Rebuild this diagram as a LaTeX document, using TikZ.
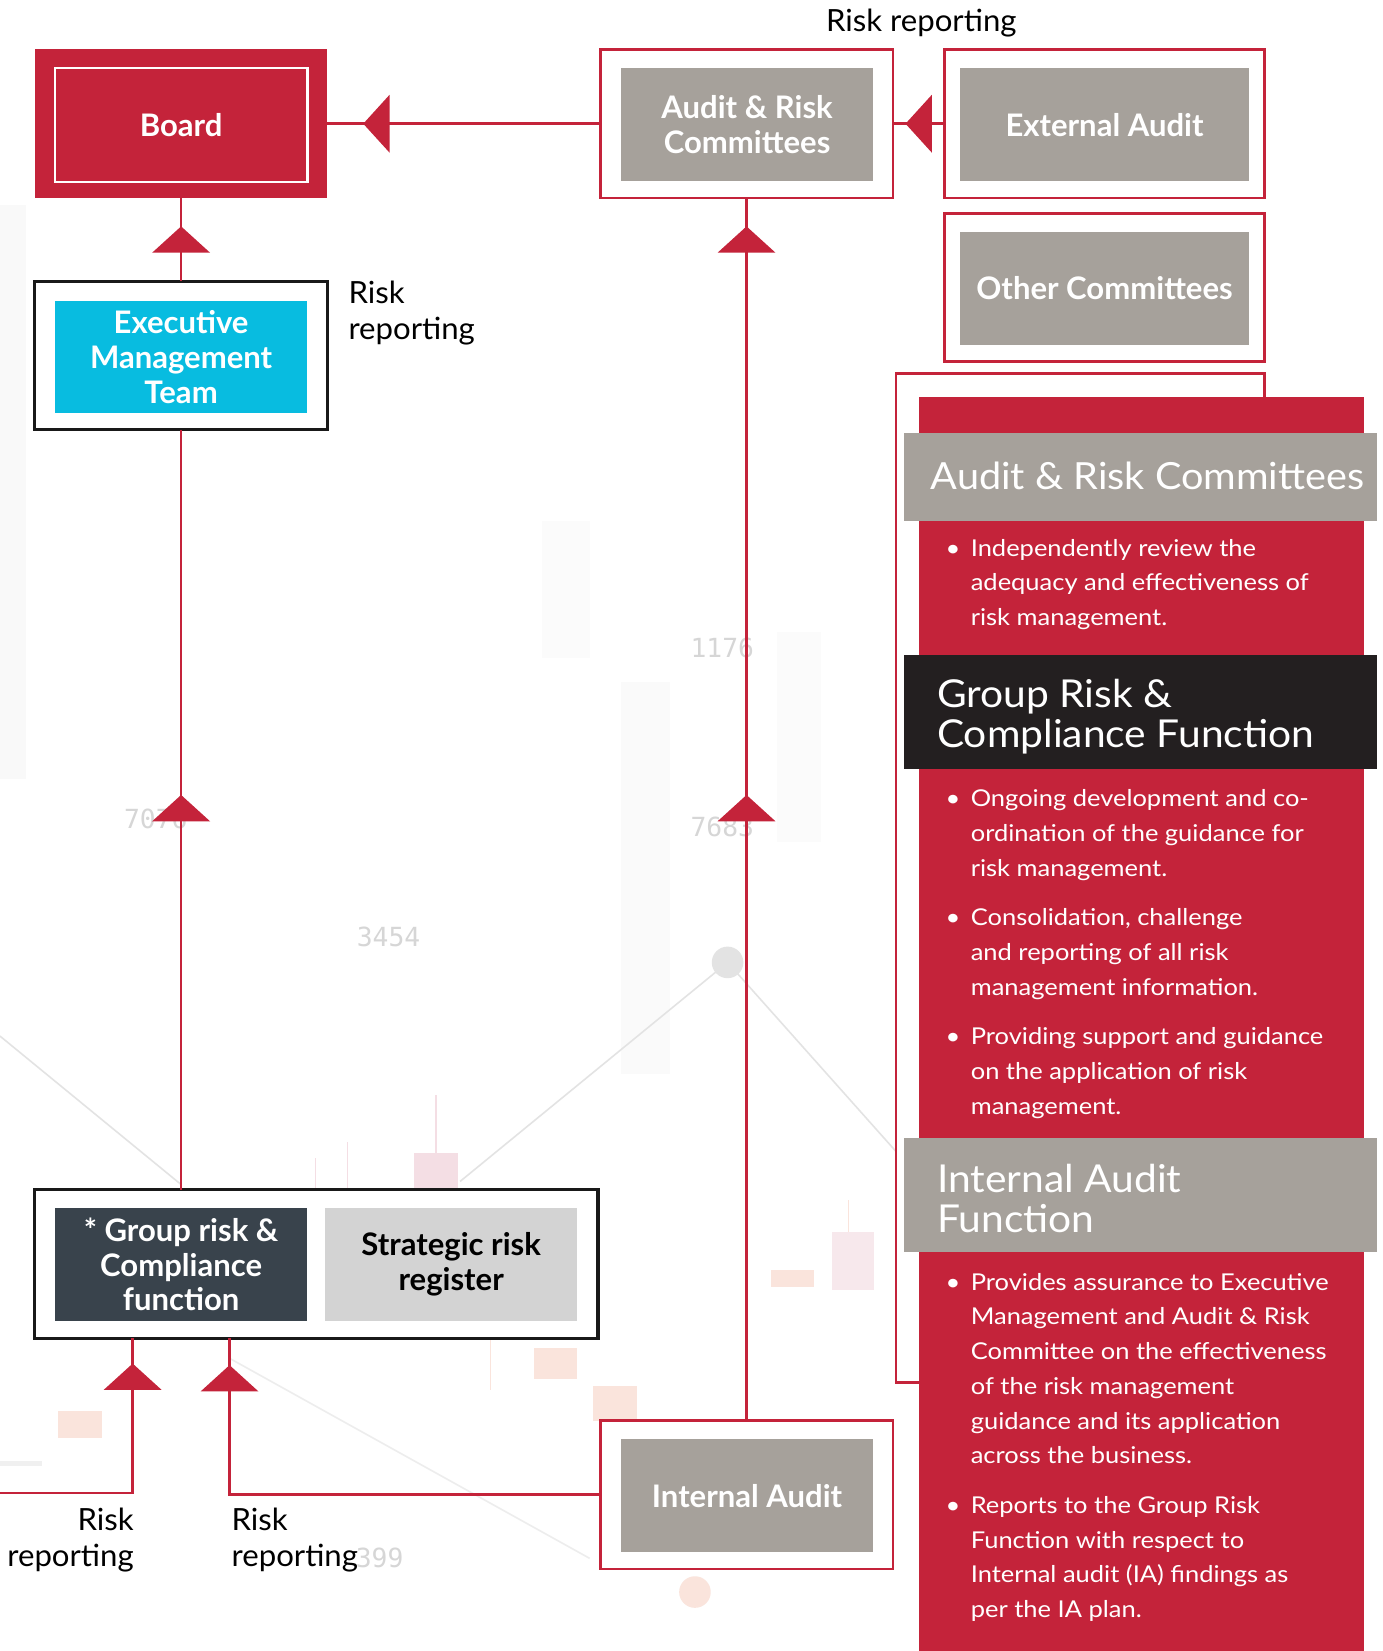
\documentclass[tikz,border=0pt]{standalone}
\usepackage{fontspec}
\setmainfont{Lato}
\newfontfamily\digitfont{DejaVu Sans Mono}
\newfontfamily\bulfont{Lato}[FakeStretch=1.1]
\newfontfamily\headfont{Lato}[FakeStretch=1.06]
\newfontfamily\lblfont{Lato}[FakeStretch=1.02]
\usetikzlibrary{arrows.meta,decorations.markings,calc}
\definecolor{cred}{HTML}{C4233A}
\definecolor{cgray}{HTML}{A6A19B}
\definecolor{cblack}{HTML}{231F20}
\definecolor{ccyan}{HTML}{08BCE0}
\definecolor{cslate}{HTML}{39434C}
\definecolor{clight}{HTML}{D3D3D3}
\definecolor{cpink}{HTML}{F4DEE4}
\definecolor{csalmon}{HTML}{FAE4DC}
\begin{document}
\begin{tikzpicture}[x=1pt,y=-1pt,
  every node/.style={inner sep=0pt,outer sep=0pt},
  redframe/.style={draw=cred,line width=2.6pt,fill=white},
  blackframe/.style={draw=black!90,line width=3pt,fill=white},
  innerbox/.style={align=center,text=white,font=\fontsize{29.5}{33}\selectfont\bfseries},
  conn/.style={draw=cred,line width=2.4pt},
  tri/.style={postaction={decorate},decoration={markings,
     mark=at position #1 with {\arrow{Triangle[length=25pt,width=55pt,line width=0pt]}}}},
  bul/.style={anchor=north west,align=left,text=white,font=\bulfont\fontsize{22}{33}\selectfont},
  head/.style={anchor=north west,align=left,text=white,font=\headfont\fontsize{36.5}{38}\selectfont},
  lbl/.style={align=left,text=black,font=\lblfont\fontsize{29}{34}\selectfont},
  digit/.style={text=gray!32,font=\digitfont\fontsize{25}{25}\selectfont},
]
\useasboundingbox (0,0) rectangle (1313,1568);
\fill[white] (0,0) rectangle (1313,1568);
% ---------- faint background chart ----------
\fill[gray!5] (0,195) rectangle (25,740);
\fill[gray!3] (515,495) rectangle (560,625);
\fill[gray!4] (590,648) rectangle (636,1020);
\fill[gray!3] (738,600) rectangle (780,800);
\fill[cpink] (393,1095) rectangle (435,1128);
\draw[cpink,line width=1.5pt] (414,1040) -- (414,1095);
\draw[cpink,line width=1pt] (330,1085) -- (330,1128);
\draw[cpink,line width=1pt] (300,1100) -- (300,1128);
\fill[csalmon] (55,1340) rectangle (97,1366);
\fill[csalmon] (507,1280) rectangle (548,1310);
\fill[csalmon] (563,1316) rectangle (605,1350);
\fill[csalmon] (732,1206) rectangle (773,1222);
\fill[cpink!70] (790,1170) rectangle (830,1225);
\draw[csalmon,line width=1pt] (466,1272) -- (466,1320);
\draw[csalmon,line width=1pt] (806,1140) -- (806,1170);
\draw[gray!12,line width=5pt] (0,1390) -- (40,1390);
\fill[csalmon] (660,1512) circle (15);
\draw[gray!22,line width=1.5pt] (0,984) -- (172,1125);
\draw[gray!22,line width=1.5pt] (437,1122) -- (691,914) -- (854,1097);
\draw[gray!14,line width=1.5pt] (218,1290) -- (560,1480);
\fill[gray!22] (691,914) circle (15);
\node[digit] (d1) at (148,778) {7076};
\node[digit] (d2) at (686,615) {1176};
\node[digit] (d3) at (686,785) {7683};
\node[digit] (d4) at (369,890) {3454};
\node[digit,anchor=west] (d5) at (338,1480) {399};
% ---------- right panel ----------
\node[redframe,minimum width=350pt,minimum height=958pt] (panelO) at (1026,834) {};
\fill[cred] (873,377) rectangle (1295,1568);
\fill[cgray] (859,411) rectangle (1308,495);
\fill[cblack] (859,622) rectangle (1308,730);
\fill[cgray] (859,1081) rectangle (1308,1189);
\node[head,font=\headfont\fontsize{35.5}{38}\selectfont] (h1) at (884,439) {Audit \& Risk Committees};
\node[head] (h2) at (890,645) {Group Risk \&\\Compliance Function};
\node[head] (h3) at (890,1106) {Internal Audit\\Function};
\node[bul] (b1) at (922,512) {\llap{•\hspace{10pt}}Independently review the\\adequacy and effectiveness of\\risk management.};
\node[bul] (b2) at (922,750) {\llap{•\hspace{10pt}}Ongoing development and co-\\ordination of the guidance for\\risk management.};
\node[bul] (b3) at (922,863) {\llap{•\hspace{10pt}}Consolidation, challenge\\and reporting of all risk\\management information.};
\node[bul] (b4) at (922,976) {\llap{•\hspace{10pt}}Providing support and guidance\\on the application of risk\\management.};
\node[bul] (b5) at (922,1209) {\llap{•\hspace{10pt}}Provides assurance to Executive\\Management and Audit \& Risk\\Committee on the effectiveness\\of the risk management\\guidance and its application\\across the business.};
\node[bul] (b6) at (922,1421) {\llap{•\hspace{10pt}}Reports to the Group Risk\\Function with respect to\\Internal audit (IA) findings as\\per the IA plan.};
% ---------- boxes ----------
\node[fill=cred,minimum width=278pt,minimum height=141pt] (boardO) at (172,117.5) {};
\node[draw=white,line width=2pt,minimum width=240pt,minimum height=108pt,innerbox] (board) at (172,119) {Board};
\node[blackframe,minimum width=278pt,minimum height=141pt] (emtO) at (172,337.5) {};
\node[fill=ccyan,minimum width=240pt,minimum height=107pt,innerbox] (emt) at (172,339) {Executive\\Management\\Team};
\node[redframe,minimum width=278pt,minimum height=141pt] (arcO) at (709,117.5) {};
\node[fill=cgray,minimum width=239pt,minimum height=107pt,innerbox] (arc) at (709.5,118.5) {Audit \& Risk\\Committees};
\node[redframe,minimum width=304pt,minimum height=141pt] (extO) at (1049,117.5) {};
\node[fill=cgray,minimum width=274pt,minimum height=107pt,innerbox] (ext) at (1049,118.5) {External Audit};
\node[redframe,minimum width=304pt,minimum height=140pt] (othO) at (1049,273) {};
\node[fill=cgray,minimum width=274pt,minimum height=107pt,innerbox] (oth) at (1049,274) {Other Committees};
\node[blackframe,minimum width=535pt,minimum height=141pt] (botO) at (300.5,1200.5) {};
\node[fill=cslate,minimum width=240pt,minimum height=107pt,innerbox] (grc) at (172,1201) {* Group risk \&\\Compliance\\function};
\node[fill=clight,minimum width=239pt,minimum height=107pt,innerbox,text=black] (srr) at (428.5,1201) {Strategic risk\\register};
\node[redframe,minimum width=278pt,minimum height=141pt] (iaO) at (709,1419.5) {};
\node[fill=cgray,minimum width=239pt,minimum height=107pt,innerbox] (ia) at (709.5,1420.5) {Internal Audit};
% ---------- labels ----------
\node[anchor=center,font=\lblfont\fontsize{29}{34}\selectfont] (lt) at (875,22) {Risk reporting};
\node[lbl,anchor=north west] (l1) at (331,267) {Risk\\reporting};
\node[lbl,anchor=north east,align=right] (l2) at (127,1432) {Risk\\reporting};
\node[lbl,anchor=north west] (l3) at (220,1432) {Risk\\reporting};
% ---------- connectors ----------
\coordinate (lf) at (0,1418);
\coordinate (rr1) at ($(botO.south west)+(93,0)$);
\coordinate (rr2) at ($(botO.south west)+(185,0)$);
\draw[conn,tri=225pt] (arcO.west) -- (boardO.east);
\draw[conn,tri=37pt] (extO.west) -- (arcO.east);
\draw[conn,tri=52pt] (emtO.north) -- (boardO.south);
\draw[conn,tri=375pt] (emtO.south |- botO.north) -- (emtO.south);
\draw[conn,postaction={decorate},decoration={markings,
   mark=at position 594pt with {\arrow{Triangle[length=25pt,width=55pt,line width=0pt]}},
   mark=at position 1134pt with {\arrow{Triangle[length=25pt,width=55pt,line width=0pt]}}}]
   (iaO.north) -- (arcO.south);
\draw[conn,tri=249pt] (lf) -| (rr1);
\draw[conn,tri=475pt] (iaO.west) -| (rr2);
\end{tikzpicture}
\end{document}
